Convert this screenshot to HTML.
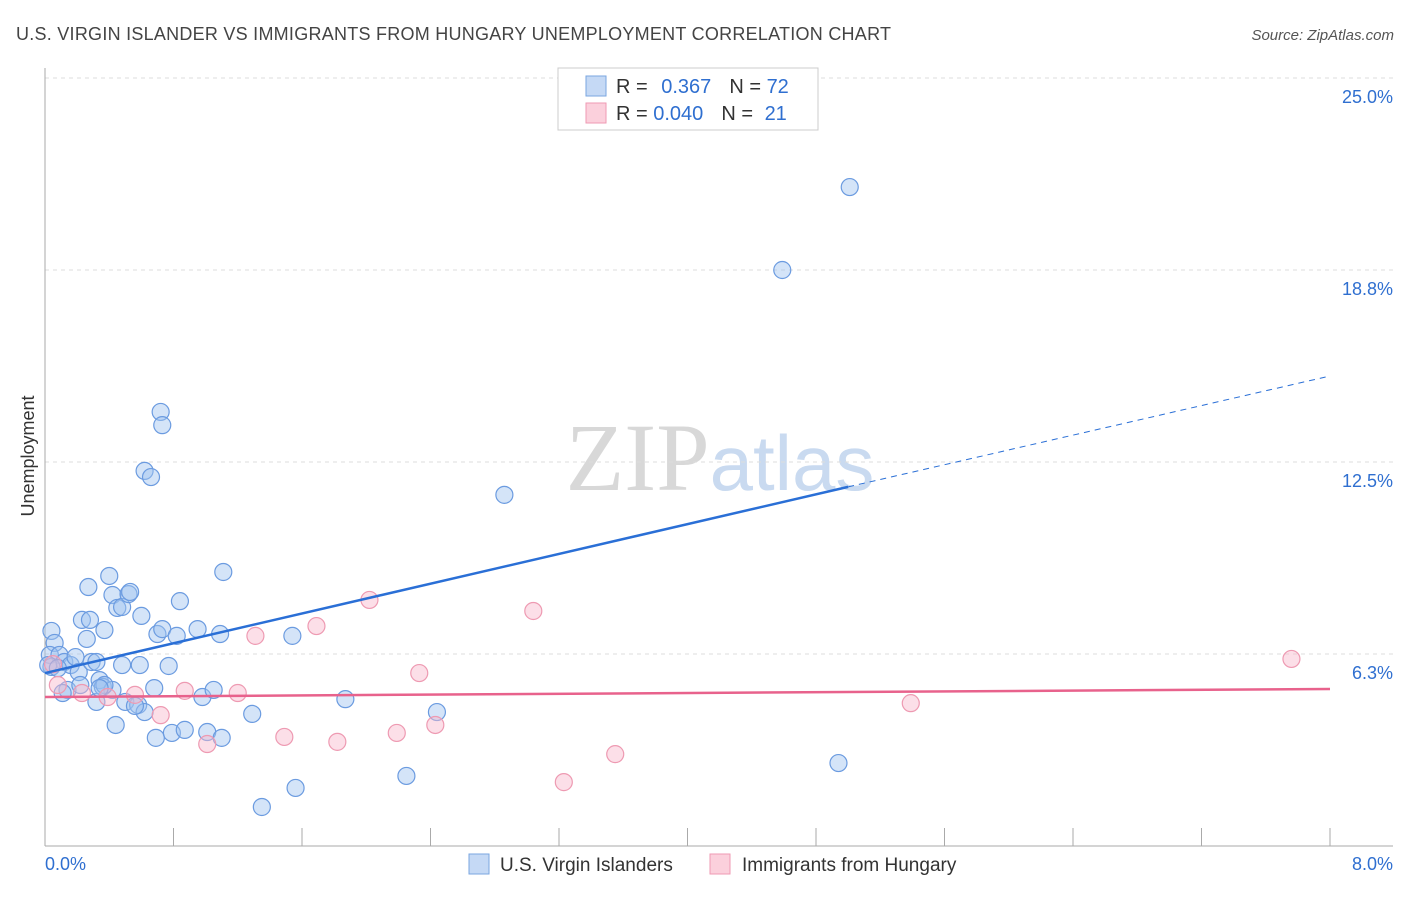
<!DOCTYPE html>
<html><head><meta charset="utf-8"><style>
body{margin:0;background:#fff;font-family:"Liberation Sans",sans-serif;}
</style></head><body>
<svg width="1406" height="892" xmlns="http://www.w3.org/2000/svg" id="svg" font-family="Liberation Sans, sans-serif">
<text x="16" y="40" font-size="18" fill="#444" textLength="875">U.S. VIRGIN ISLANDER VS IMMIGRANTS FROM HUNGARY UNEMPLOYMENT CORRELATION CHART</text>
<text x="1394" y="40" font-size="15" fill="#555" text-anchor="end" font-style="italic">Source: ZipAtlas.com</text>
<text x="720" y="490" font-size="96" text-anchor="middle" font-family="Liberation Serif, serif"><tspan fill="#d8d8d8">ZIP</tspan><tspan fill="#c9daf0" font-family="Liberation Sans, sans-serif" font-size="78">atlas</tspan></text>
<text transform="translate(34,456) rotate(-90)" font-size="18" fill="#333" text-anchor="middle">Unemployment</text>
<g id="grid"></g><g id="marks"></g>
<g>
<rect x="558" y="68" width="260" height="62" fill="#fff" stroke="#ccc"/>
<rect x="586" y="76" width="20" height="20" fill="#c5d9f5" stroke="#7aa6e0"/>
<rect x="586" y="103" width="20" height="20" fill="#fbd0dc" stroke="#ef9ab3"/>
<text x="616" y="93" font-size="20" fill="#333">R = <tspan fill="#2f6fd0" dx="8">0.367</tspan><tspan dx="18">N = </tspan><tspan fill="#2f6fd0">72</tspan></text>
<text x="616" y="120" font-size="20" fill="#333">R = <tspan fill="#2f6fd0">0.040</tspan><tspan dx="18">N = </tspan><tspan fill="#2f6fd0" dx="6">21</tspan></text>
</g>
<g>
<rect x="469" y="854" width="20" height="20" fill="#c5d9f5" stroke="#7aa6e0"/>
<text x="500" y="871" font-size="19" fill="#333">U.S. Virgin Islanders</text>
<rect x="710" y="854" width="20" height="20" fill="#fbd0dc" stroke="#ef9ab3"/>
<text x="742" y="871" font-size="19" fill="#333">Immigrants from Hungary</text>
</g>
<text x="45" y="870" font-size="18" fill="#2f6fd0">0.0%</text>
<text x="1393" y="870" font-size="18" fill="#2f6fd0" text-anchor="end">8.0%</text>
</svg>
<script>
const blueX=[0.04,0.06,0.03,0.09,0.12,0.04,0.16,0.14,0.19,0.21,0.22,0.23,0.26,0.27,0.28,0.29,0.32,0.32,0.34,0.36,0.37,0.40,0.42,0.42,0.44,0.45,0.48,0.48,0.50,0.52,0.53,0.58,0.59,0.60,0.62,0.62,0.66,0.68,0.69,0.70,0.72,0.73,0.73,0.77,0.79,0.82,0.84,0.87,0.95,0.98,1.01,1.05,1.09,1.10,1.11,1.29,1.35,1.54,1.56,1.87,2.25,2.44,2.86,4.59,4.94,5.01,0.02,0.11,0.56,0.37,0.08,0.34];
const blueY=[7.00,6.61,6.22,6.22,5.99,5.83,5.89,5.08,6.15,5.66,5.24,7.36,6.74,8.43,7.36,5.99,5.99,4.69,5.40,5.18,7.03,8.79,8.17,5.08,3.94,7.75,7.78,5.89,4.69,8.20,8.27,4.59,5.89,7.49,4.36,12.21,12.01,5.14,3.52,6.90,14.13,13.70,7.06,5.86,3.68,6.84,7.97,3.78,7.06,4.85,3.71,5.08,6.90,3.52,8.92,4.30,1.27,6.84,1.89,4.78,2.28,4.36,11.43,18.75,2.70,21.45,5.89,4.98,4.56,5.24,5.79,5.14];
const pinkX=[0.05,0.08,0.23,0.39,0.56,0.72,0.87,1.01,1.20,1.31,1.49,1.69,1.82,2.02,2.19,2.33,2.43,3.04,3.23,3.55,5.39,7.76];
const pinkY=[5.92,5.24,4.98,4.85,4.92,4.26,5.05,3.32,4.98,6.84,3.55,7.16,3.39,8.01,3.68,5.63,3.94,7.65,2.08,2.99,4.65,6.09];
const yTicks=[6.25,12.5,18.75,25];
const yTickLabels=["6.3%","12.5%","18.8%","25.0%"];
const blueTrend=[[0,5.63],[5.0,11.69],[8.0,15.3]];
const pinkTrend=[[0,4.85],[8.0,5.11]];
const X=v=>45+v/8*1285, Y=v=>846-v/6.25*192;
const NS="http://www.w3.org/2000/svg";
function mk(p,t,a){const e=document.createElementNS(NS,t);for(const k in a)e.setAttribute(k,a[k]);p.appendChild(e);return e;}
const g=document.getElementById('grid'),m=document.getElementById('marks');
yTicks.forEach((t,i)=>{
 const l=mk(g,'line',{x1:45,x2:1393,y1:Y(t),y2:Y(t),stroke:'#ddd','stroke-dasharray':'4,4'});
 
 
 const tx=mk(g,'text',{x:1393,y:Y(t)+25,'font-size':18,fill:'#2f6fd0','text-anchor':'end'});
 tx.textContent=yTickLabels[i];
 
 
});
const ax=mk(g,'line',{x1:45,x2:45,y1:68,y2:846,stroke:'#aaa'});


const bx=mk(g,'line',{x1:45,x2:1393,y1:846,y2:846,stroke:'#aaa'});


for(let i=0;i<=10;i++){const t=mk(g,'line',{x1:X(i*0.8),x2:X(i*0.8),y1:828,y2:846,stroke:'#aaa'});
 
 }
blueX.forEach((v,i)=>{const c=mk(m,'circle',{cx:X(v),cy:Y(blueY[i]),r:8.5,fill:'rgba(160,195,240,0.45)',stroke:'#6b9be0','stroke-width':1.2});
 
 });
pinkX.forEach((v,i)=>{const c=mk(m,'circle',{cx:X(v),cy:Y(pinkY[i]),r:8.5,fill:'rgba(248,185,205,0.45)',stroke:'#ee9ab2','stroke-width':1.2});
 
 });
const b1=mk(m,'line',{x1:X(blueTrend[0][0]),y1:Y(blueTrend[0][1]),x2:X(blueTrend[1][0]),y2:Y(blueTrend[1][1]),stroke:'#2a6fd6','stroke-width':2.5});


const b2=mk(m,'line',{x1:X(blueTrend[1][0]),y1:Y(blueTrend[1][1]),x2:X(blueTrend[2][0]),y2:Y(blueTrend[2][1]),stroke:'#2a6fd6','stroke-width':1,'stroke-dasharray':'6,5'});


const p1=mk(m,'line',{x1:X(pinkTrend[0][0]),y1:Y(pinkTrend[0][1]),x2:X(pinkTrend[1][0]),y2:Y(pinkTrend[1][1]),stroke:'#e8628c','stroke-width':2.5});


</script>
</body></html>
